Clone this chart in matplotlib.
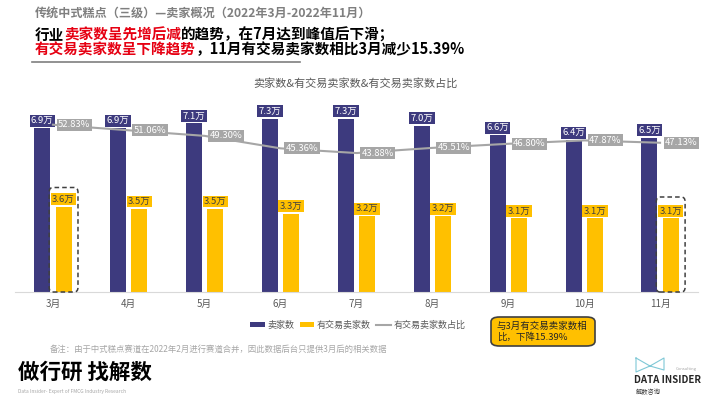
import numpy as np
import matplotlib
matplotlib.use('Agg')
import matplotlib.pyplot as plt
from matplotlib.patches import Rectangle, FancyBboxPatch
from matplotlib.lines import Line2D

plt.rcParams['font.family'] = ['Noto Sans CJK SC', 'DejaVu Sans']

# ---------------- data ----------------
months = ['3月', '4月', '5月', '6月', '7月', '8月', '9月', '10月', '11月']
sellers = [6.9, 6.9, 7.1, 7.3, 7.3, 7.0, 6.6, 6.4, 6.5]          # 万
trade_sellers = [3.6, 3.5, 3.5, 3.3, 3.2, 3.2, 3.1, 3.1, 3.1]    # 万
trade_ratio = [52.83, 51.06, 49.30, 45.36, 43.88, 45.51, 46.80, 47.87, 47.13]  # %

DARK = '#3d3a7e'
YELLOW = '#ffc000'
GRAY = '#a6a6a6'

W, H = 710, 399
fig = plt.figure(figsize=(7.1, 3.99), dpi=100)
bg = fig.add_axes([0, 0, 1, 1])
bg.set_xlim(0, 1)
bg.set_ylim(0, 1)
bg.axis('off')
renderer = fig.canvas.get_renderer()

# ---------------- header ----------------
bg.text(35 / W, 1 - 13 / H, '传统中式糕点（三级）—卖家概况（2022年3月-2022年11月）',
        fontsize=8.7, fontweight='bold', color='#7f7f7f', va='center', ha='left')


def colored_line(y_px, parts, size=10.5):
    # place text pieces one after another on a shared baseline
    xpos = 35
    for txt, col in parts:
        t = bg.text(xpos / W, 1 - y_px / H, txt, fontsize=size, fontweight='bold',
                    color=col, va='baseline', ha='left')
        xpos += t.get_window_extent(renderer).width


colored_line(39.5, [('行业', 'black'), ('卖家数呈先增后减', '#e60012'),
                    ('的趋势，在7月达到峰值后下滑；', 'black')])
colored_line(54, [('有交易卖家数呈下降趋势', '#e60012'),
                  ('，11月有交易卖家数相比3月减少15.39%', 'black')])
bg.add_line(Line2D([32 / W, 300 / W], [1 - 62 / H, 1 - 62 / H],
                   color='#7f7f7f', lw=1.2))

bg.text(355 / W, 1 - 83 / H, '卖家数&有交易卖家数&有交易卖家数占比',
        fontsize=8, color='#595959', ha='center', va='center')

# ---------------- chart ----------------
ax = fig.add_axes([15 / W, 1 - 292 / H, 683 / W, 190 / H])
ax2 = ax.twinx()
x = np.arange(len(months))
w = 0.21
off = 0.14

ax.bar(x - off, sellers, width=w, color=DARK, zorder=2)
ax.bar(x + off, trade_sellers, width=w, color=YELLOW, zorder=2)
ax.set_xlim(-0.5, len(months) - 0.5)
ax.set_ylim(0, 8)
ax2.set_ylim(0, 60)

for s in ['top', 'left', 'right']:
    ax.spines[s].set_visible(False)
    ax2.spines[s].set_visible(False)
ax2.spines['bottom'].set_visible(False)
ax.spines['bottom'].set_color('#d9d9d9')
ax.set_yticks([])
ax2.set_yticks([])
ax.set_xticks(x)
ax.set_xticklabels(months, fontsize=7, color='#595959')
ax.tick_params(axis='x', length=0, pad=5)

for i in range(len(months)):
    ax.text(x[i] - off, sellers[i] + 0.12, f'{sellers[i]:.1f}万', fontsize=6.8,
            color='white', ha='center', va='bottom', zorder=4,
            bbox=dict(boxstyle='square,pad=0.15', fc=DARK, ec='none'))
    ax.text(x[i] + off, trade_sellers[i] + 0.12, f'{trade_sellers[i]:.1f}万', fontsize=6.8,
            color='#404040', ha='center', va='bottom', zorder=4,
            bbox=dict(boxstyle='square,pad=0.15', fc=YELLOW, ec='none'))

ax2.plot(x, trade_ratio, color=GRAY, lw=1.5, zorder=3)
for i in range(len(months)):
    ax2.text(x[i] + 0.28, trade_ratio[i], f'{trade_ratio[i]:.2f}%', fontsize=6.8,
             color='white', ha='center', va='center', zorder=5,
             bbox=dict(boxstyle='square,pad=0.15', fc=GRAY, ec='none'))

# dashed highlight boxes around first and last trading bars
for i, top in [(0, trade_sellers[0] + 0.8), (len(months) - 1, trade_sellers[-1] + 0.9)]:
    ax.add_patch(FancyBboxPatch((x[i] + off - 0.19, 0), 0.38, top,
                                boxstyle='round,pad=0,rounding_size=0.05',
                                mutation_aspect=4, fill=False, ec='#404040',
                                ls=(0, (3, 2)), lw=1.1, zorder=5, clip_on=False))

# ---------------- legend ----------------
handles = [Rectangle((0, 0), 1, 1, fc=DARK, ec='none'),
           Rectangle((0, 0), 1, 1, fc=YELLOW, ec='none'),
           Line2D([0], [0], color=GRAY, lw=1.5)]
fig.legend(handles, ['卖家数', '有交易卖家数', '有交易卖家数占比'],
           loc='center', bbox_to_anchor=(358 / W, 1 - 325 / H), ncol=3,
           frameon=False, fontsize=6.5, handlelength=1.6, handleheight=0.5,
           handletextpad=0.3, columnspacing=0.6, labelcolor='#595959')

# callout
bg.add_patch(FancyBboxPatch((491 / W, 1 - 346 / H), 104 / W, 29 / H,
                            boxstyle='round,pad=0,rounding_size=0.012',
                            fc=YELLOW, ec='#404040', lw=1.2))
bg.text(497 / W, 1 - 331.5 / H, '与3月有交易卖家数相\n比，下降15.39%', fontsize=6.8,
        color='#262626', ha='left', va='center', linespacing=1.2)

# ---------------- footer ----------------
bg.text(50 / W, 1 - 349 / H,
        '备注：由于中式糕点赛道在2022年2月进行赛道合并，因此数据后台只提供3月后的相关数据',
        fontsize=6, color='#a6a6a6', ha='left', va='center')
bg.text(18 / W, 1 - 372 / H, '做行研 找解数', fontsize=15.5, fontweight='bold',
        color='black', ha='left', va='center')
bg.text(18 / W, 1 - 391 / H, 'Data Insider- Expert of FMCG Industry Research',
        fontsize=3.5, color='#a6a6a6', ha='left', va='center')

# right logo
bg.add_line(Line2D([636 / W, 650 / W, 664 / W, 664 / W, 650 / W, 636 / W, 636 / W],
                   [1 - 358 / H, 1 - 366 / H, 1 - 358 / H, 1 - 370 / H,
                    1 - 366 / H, 1 - 372 / H, 1 - 358 / H],
                   color='#7fc8d6', lw=0.8))
bg.text(686 / W, 1 - 369 / H, 'Consulting', fontsize=3, color='#a6a6a6', ha='center', va='center')
bg.text(668 / W, 1 - 380 / H, 'DATA INSIDER', fontsize=7, fontweight='bold',
        color='#262626', ha='center', va='center')
bg.text(636 / W, 1 - 392 / H, '解数咨询', fontsize=4.5, color='#404040',
        ha='left', va='center')

fig.savefig('out.png', dpi=100)
